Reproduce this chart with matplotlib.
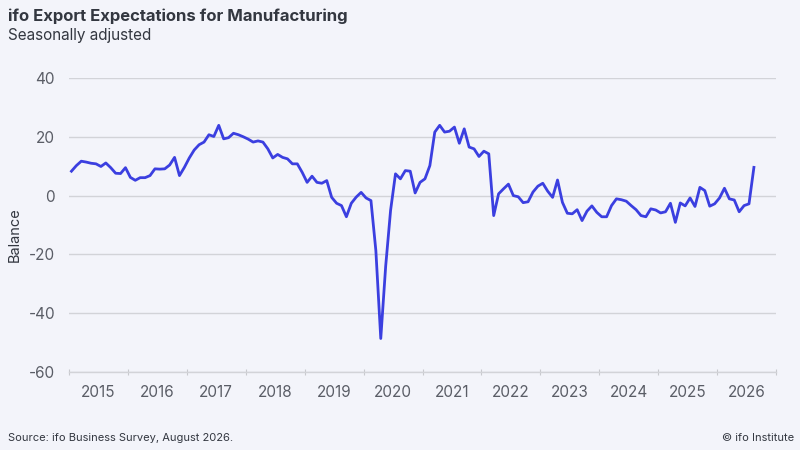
import numpy as np
import matplotlib
matplotlib.use("Agg")
import matplotlib.pyplot as plt

plt.rcParams["font.family"] = ["Inter", "DejaVu Sans"]

# ---- data (monthly, Jan 2015 - Aug 2026) ----
start_year = 2015
values = [
    8.3, 10.2, 11.7, 11.4, 11.0, 10.8, 9.9, 11.1, 9.5, 7.6, 7.5, 9.5,        # 2015
    6.2, 5.2, 6.1, 6.1, 6.8, 9.1, 9.0, 9.1, 10.4, 13.0, 6.8, 9.6,           # 2016
    12.8, 15.5, 17.3, 18.2, 20.7, 20.1, 23.9, 19.3, 19.7, 21.2, 20.7, 20.0,  # 2017
    19.2, 18.2, 18.6, 18.2, 15.9, 12.8, 14.0, 13.0, 12.5, 10.8, 10.8, 7.9,  # 2018
    4.5, 6.6, 4.5, 4.2, 5.1, -0.6, -2.6, -3.4, -7.2, -2.6, -0.5, 1.1,       # 2019
    -0.8, -1.7, -18.7, -48.6, -24.0, -5.0, 7.4, 5.7, 8.5, 8.3, 0.9, 4.5,    # 2020
    5.7, 10.2, 21.6, 23.9, 21.6, 21.9, 23.3, 17.8, 22.7, 16.5, 15.9, 13.3,  # 2021
    15.1, 14.2, -6.8, 0.6, 2.3, 3.9, 0.0, -0.4, -2.4, -2.1, 1.2, 3.2,       # 2022
    4.2, 1.5, -0.6, 5.3, -2.3, -6.0, -6.2, -4.8, -8.5, -5.3, -3.5, -5.7,    # 2023
    -7.2, -7.2, -3.4, -1.1, -1.4, -1.9, -3.4, -4.8, -6.8, -7.2, -4.5, -4.9, # 2024
    -5.9, -5.5, -2.6, -9.1, -2.5, -3.5, -0.8, -3.7, 2.8, 1.7, -3.6, -2.8,   # 2025
    -0.8, 2.5, -1.1, -1.5, -5.5, -3.4, -2.8, 9.6,                           # 2026
]
years = list(range(2015, 2027))
y_ticks = [40, 20, 0, -20, -40, -60]

x = start_year + (np.arange(len(values)) + 0.5) / 12

bg = "#f3f4fa"
line_color = "#3b3fe0"
text_dark = "#333740"
text_gray = "#5a5d66"

fig = plt.figure(figsize=(8, 4.5), dpi=100, facecolor=bg)
ax = fig.add_axes([0.08625, 0.1733, 0.88375, 0.6534], facecolor=bg)

ax.plot(x, values, color=line_color, linewidth=2.0, solid_joinstyle="round")

ax.set_xlim(2015, 2027)
ax.set_ylim(-60, 40)
ax.set_yticks(y_ticks)
ax.set_yticklabels([str(v) for v in y_ticks])
ax.grid(axis="y", color="#d2d3d8", linewidth=1.0)
ax.set_axisbelow(True)

# year boundaries as ticks, labels centred in the year
ax.set_xticks(list(range(2015, 2028)))
ax.set_xticklabels([])
ax.set_xticks([yr + 0.5 for yr in years], minor=True)
ax.set_xticklabels([str(yr) for yr in years], minor=True)
ax.tick_params(axis="x", which="major", length=4, color="#c8c9ce", direction="inout")
ax.tick_params(axis="x", which="minor", length=0, pad=9, labelsize=11, labelcolor=text_gray)
ax.tick_params(axis="y", length=0, pad=10, labelsize=11, labelcolor=text_gray)

for side in ["top", "right", "left"]:
    ax.spines[side].set_visible(False)
ax.spines["bottom"].set_color("#d2d3d8")
ax.spines["bottom"].set_linewidth(1.0)

fig.text(15 / 800, 1 - 235 / 450, "Balance", fontsize=10.5, color=text_dark,
         rotation=90, ha="center", va="center")

fig.text(0.01, 0.963, "ifo Export Expectations for Manufacturing", fontsize=12,
         fontweight="bold", color=text_dark, ha="left", va="center")
fig.text(0.01, 0.922, "Seasonally adjusted", fontsize=11, color=text_dark,
         ha="left", va="center")
fig.text(0.01, 0.027, "Source: ifo Business Survey, August 2026.", fontsize=8,
         color=text_dark, ha="left", va="center")
fig.text(0.993, 0.027, "© ifo Institute", fontsize=8, color=text_dark,
         ha="right", va="center")

fig.savefig("out.png", dpi=100, facecolor=bg)
